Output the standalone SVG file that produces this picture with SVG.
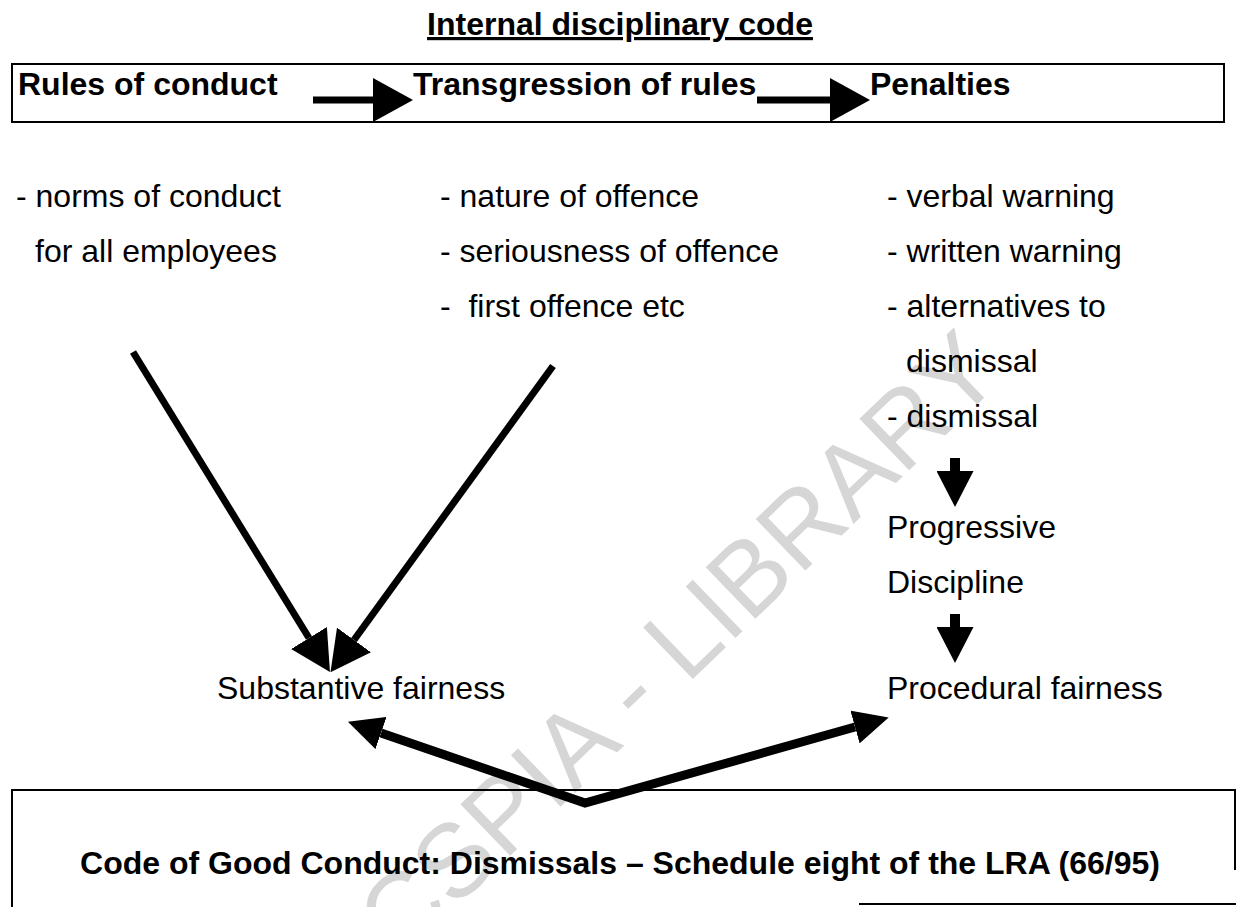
<svg xmlns="http://www.w3.org/2000/svg" width="1236" height="907" viewBox="0 0 1236 907">
  <style>
    text { font-family: "Liberation Sans", Arial, sans-serif; fill: #000; }
    .b { font-weight: bold; font-size: 32px; }
    .r { font-size: 32px; }
    .frame { fill: none; stroke: #000; stroke-width: 2; }
    .shaft { fill: none; stroke: #000; }
    .wm { font-size: 104px; fill: #d6d6d6; }
  </style>
  <defs>
    <marker id="headL" markerUnits="userSpaceOnUse" markerWidth="40" markerHeight="44" refX="0" refY="22" orient="auto">
      <path d="M0,0 L40,22 L0,44 Z" fill="#000"/>
    </marker>
    <marker id="headD" markerUnits="userSpaceOnUse" markerWidth="40" markerHeight="42" refX="0" refY="21" orient="auto">
      <path d="M0,0 L40,21 L0,42 Z" fill="#000"/>
    </marker>
    <marker id="headS" markerUnits="userSpaceOnUse" markerWidth="36" markerHeight="37" refX="0" refY="18.5" orient="auto">
      <path d="M0,0 L36,18.5 L0,37 Z" fill="#000"/>
    </marker>
    <marker id="headV" markerUnits="userSpaceOnUse" markerWidth="35" markerHeight="34" refX="0" refY="17" orient="auto-start-reverse">
      <path d="M0,0 L35,17 L0,34 Z" fill="#000"/>
    </marker>
  </defs>

  <!-- background watermark -->
  <text class="wm" transform="translate(400,962) rotate(-44)">CSPIA - LIBRARY</text>

  <!-- title -->
  <g id="title">
    <text class="b" x="620" y="35" text-anchor="middle" text-decoration="underline">Internal disciplinary code</text>
  </g>

  <!-- internal code strip -->
  <g id="code-box">
    <rect class="frame" x="12" y="64" width="1212" height="58"/>
  </g>
  <g id="rules"><text class="b" x="18" y="95">Rules of conduct</text></g>
  <g id="transgression"><text class="b" x="413" y="95">Transgression of rules</text></g>
  <g id="penalties"><text class="b" x="870" y="95">Penalties</text></g>

  <!-- detail lists -->
  <g id="rules-detail">
    <text class="r" x="16" y="207">- norms of conduct</text>
    <text class="r" x="35" y="262">for all employees</text>
  </g>
  <g id="transgression-detail">
    <text class="r" x="440" y="207">- nature of offence</text>
    <text class="r" x="440" y="262">- seriousness of offence</text>
    <text class="r" x="440" y="317" xml:space="preserve">-  first offence etc</text>
  </g>
  <g id="penalties-detail">
    <text class="r" x="887" y="207">- verbal warning</text>
    <text class="r" x="887" y="262">- written warning</text>
    <text class="r" x="887" y="317">- alternatives to</text>
    <text class="r" x="906" y="372">dismissal</text>
    <text class="r" x="887" y="427">- dismissal</text>
  </g>
  <g id="progressive">
    <text class="r" x="887" y="538">Progressive</text>
    <text class="r" x="887" y="593">Discipline</text>
  </g>
  <g id="substantive"><text class="r" x="217" y="699">Substantive fairness</text></g>
  <g id="procedural"><text class="r" x="887" y="699">Procedural fairness</text></g>

  <!-- schedule eight box -->
  <g id="schedule">
    <path class="frame" d="M12,907 L12,790 L1236,790 M1235,790 L1235,870 M859,904 L1236,904"/>
    <text class="b" x="620" y="874" text-anchor="middle">Code of Good Conduct: Dismissals – Schedule eight of the LRA (66/95)</text>
  </g>

  <!-- connectors -->
  <g id="connectors">
    <line class="shaft" x1="313" y1="100" x2="373" y2="100" stroke-width="7" marker-end="url(#headL)"/>
    <line class="shaft" x1="757" y1="100" x2="830" y2="100" stroke-width="7" marker-end="url(#headL)"/>
    <line class="shaft" x1="133" y1="352" x2="309" y2="638" stroke-width="7" marker-end="url(#headD)"/>
    <line class="shaft" x1="553" y1="366" x2="354" y2="640" stroke-width="7" marker-end="url(#headD)"/>
    <line class="shaft" x1="955" y1="458" x2="955" y2="471" stroke-width="10" marker-end="url(#headS)"/>
    <line class="shaft" x1="955" y1="614" x2="955" y2="627" stroke-width="10" marker-end="url(#headS)"/>
    <path class="shaft" d="M381,733 L585,803 L855,727" stroke-width="9" stroke-linejoin="miter" marker-start="url(#headV)" marker-end="url(#headV)"/>
  </g>
</svg>
